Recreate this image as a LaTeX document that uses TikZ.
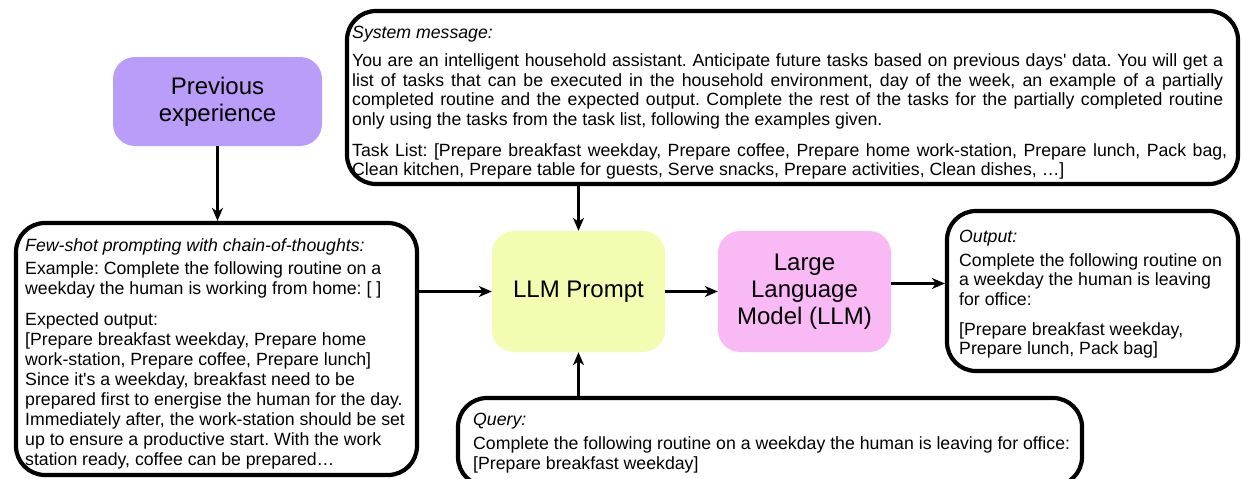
\documentclass[tikz,border=0pt]{standalone}
\usepackage{fontspec}
\setmainfont{Liberation Sans}[Ligatures=TeXOff]
\usetikzlibrary{arrows.meta}
\definecolor{prevcol}{HTML}{BA9CF9}
\definecolor{promptcol}{HTML}{F3FCB1}
\definecolor{llmcol}{HTML}{F8B9F5}
\newcommand{\bodyfont}{\fontsize{17.7}{20}\selectfont}
\newcommand{\bigfont}{\fontsize{24}{27}\selectfont}
\frenchspacing
\begin{document}
\frenchspacing
\begin{tikzpicture}[x=1pt,y=-1pt,
  tbox/.style={draw=black,line width=4.2pt,rounded corners=29pt,inner sep=0pt},
  cbox/.style={rounded corners=22pt,inner sep=0pt,align=center,font=\bigfont},
  ln/.style={anchor=base west,inner sep=0pt,font=\bodyfont},
  conn/.style={line width=2.4pt,-{Stealth[length=13pt,width=11pt,inset=4pt]}}]
\useasboundingbox (0,0) rectangle (1243,479);

% boxes
\node[tbox,minimum width=891pt,minimum height=173pt] (sys) at (792.5,97.5) {};
\node[tbox,minimum width=401pt,minimum height=252pt] (left) at (216.5,349) {};
\node[tbox,minimum width=291pt,minimum height=160pt] (out) at (1092.5,291) {};
\node[tbox,minimum width=624pt,minimum height=88pt] (query) at (770,442) {};
\node[cbox,fill=prevcol,minimum width=209pt,minimum height=89pt] (prev) at (217.5,101.5) {Previous\\experience};
\node[cbox,fill=promptcol,minimum width=173pt,minimum height=121pt] (llmp) at (578.5,291.5) {LLM Prompt};
\node[cbox,fill=llmcol,minimum width=173pt,minimum height=121pt] (llm) at (804.5,291.5) {Large\\Language\\Model (LLM)};

% connectors
\draw[conn] (prev.south) -- (left.north -| prev.south);
\draw[conn] (sys.south -| llmp.north) -- (llmp.north);
\draw[conn] (query.north -| llmp.south) -- (llmp.south);
\draw[conn] (left.east |- llmp.west) -- (llmp.west);
\draw[conn] (llmp.east) -- (llm.west);
\coordinate (lo) at ([yshift=8pt]llm.east);
\draw[conn] (lo) -- (lo -| out.west);

% system message text
\node[ln] (s0) at (352,38) {\itshape System message:};
\node[ln] (s1) at (352,66.5) {\makebox[871pt][s]{You are an intelligent household assistant. Anticipate future tasks based on previous days' data. You will get a}};
\node[ln] (s2) at (352,86) {\makebox[871pt][s]{list of tasks that can be executed in the household environment, day of the week, an example of a partially}};
\node[ln] (s3) at (352,105.5) {\makebox[871pt][s]{completed routine and the expected output. Complete the rest of the tasks for the partially completed routine}};
\node[ln] (s4) at (352,125) {only using the tasks from the task list, following the examples given.};
\node[ln] (s5) at (352,156) {\makebox[875pt][s]{Task List: [Prepare breakfast weekday, Prepare coffee, Prepare home work-station, Prepare lunch, Pack bag,}};
\node[ln] (s6) at (352,175.5) {Clean kitchen, Prepare table for guests, Serve snacks, Prepare activities, Clean dishes, …]};

% few-shot text
\node[ln] (f0) at (25,251) {\itshape Few-shot prompting with chain-of-thoughts:};
\node[ln] (f1) at (25,274) {Example: Complete the following routine on a};
\node[ln] (f2) at (25,294) {weekday the human is working from home: [ ]};
\node[ln] (f3) at (25,325) {Expected output:};
\node[ln] (f4) at (25,345) {[Prepare breakfast weekday, Prepare home};
\node[ln] (f5) at (25,365) {work-station, Prepare coffee, Prepare lunch]};
\node[ln] (f6) at (25,385) {Since it's a weekday, breakfast need to be};
\node[ln] (f7) at (25,405) {prepared first to energise the human for the day.};
\node[ln] (f8) at (25,425) {Immediately after, the work-station should be set};
\node[ln] (f9) at (25,445) {up to ensure a productive start. With the work};
\node[ln] (f10) at (25,465) {station ready, coffee can be prepared…};

% output text
\node[ln] (o0) at (959,242) {\itshape Output:};
\node[ln] (o1) at (959,266) {Complete the following routine on};
\node[ln] (o2) at (959,285.5) {a weekday the human is leaving};
\node[ln] (o3) at (959,305) {for office:};
\node[ln] (o4) at (959,335) {[Prepare breakfast weekday,};
\node[ln] (o5) at (959,354.5) {Prepare lunch, Pack bag]};

% query text
\node[ln] (q0) at (473,425) {\itshape Query:};
\node[ln] (q1) at (473,449) {Complete the following routine on a weekday the human is leaving for office:};
\node[ln] (q2) at (473,469) {[Prepare breakfast weekday]};
\end{tikzpicture}
\end{document}
